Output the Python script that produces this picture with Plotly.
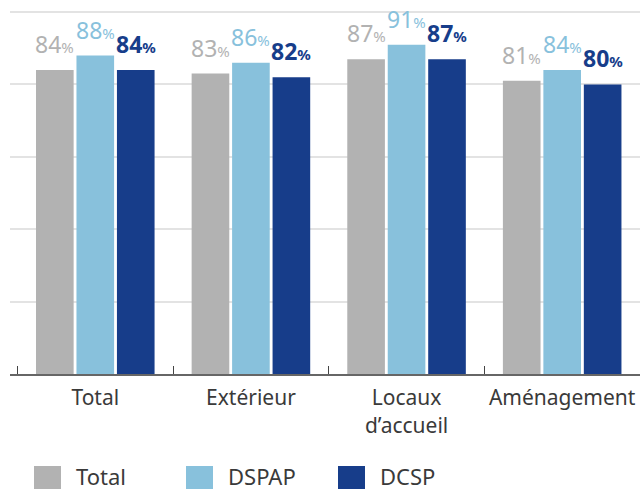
import plotly.graph_objects as go

categories = ["Total", "Extérieur", "Locaux<br>d’accueil", "Aménagement"]
series_names = ["Total", "DSPAP", "DCSP"]
total_vals = [84, 83, 87, 81]
dspap_vals = [88, 86, 91, 84]
dcsp_vals = [84, 82, 87, 80]

colors = ["#b2b2b2", "#88c1dc", "#173d8a"]
label_bold = [False, False, True]
FONT = "Noto Sans"

W, H = 640, 490
ML, MR, MT, MB = 10, 0, 11, 116
BARGAP = 0.22

fig = go.Figure()
all_vals = [total_vals, dspap_vals, dcsp_vals]
for name, vals, col in zip(series_names, all_vals, colors):
    fig.add_trace(go.Bar(
        x=categories, y=vals, name=name, marker_color=col, marker_line_width=0,
        cliponaxis=False, showlegend=False, hoverinfo="skip",
    ))

# value labels above bars (positioned on the category axis scale)
n = len(series_names)
slot = (1 - BARGAP) / n
for k, (vals, col, bold) in enumerate(zip(all_vals, colors, label_bold)):
    for i, v in enumerate(vals):
        if bold:
            txt = f"<b>{v}</b><b><span style='font-size:15px'>%</span></b>"
        else:
            txt = f"{v}<span style='font-size:15px'>%</span>"
        fig.add_annotation(x=i + (k - (n - 1) / 2) * slot, y=v, xref="x", yref="y",
                           text=txt, showarrow=False, yanchor="bottom", yshift=9,
                           borderpad=0, font=dict(family=FONT, size=23, color=col))

# custom legend (large square swatches)
pw, ph = W - ML - MR, H - MT - MB
def px_x(x):
    return (x - ML) / pw
def px_y(y):
    return (H - MB - y) / ph

legend_x = [34, 186, 338]
for name, col, lx in zip(series_names, colors, legend_x):
    fig.add_shape(type="rect", xref="paper", yref="paper",
                  x0=px_x(lx), x1=px_x(lx + 27), y0=px_y(489), y1=px_y(466),
                  fillcolor=col, line_width=0)
    fig.add_annotation(xref="paper", yref="paper", x=px_x(lx + 41), y=px_y(476),
                       text=name, showarrow=False, xanchor="left", yanchor="middle",
                       borderpad=0, font=dict(family=FONT, size=22, color="#3a3a3a"))

fig.update_layout(
    width=W, height=H, margin=dict(l=ML, r=MR, t=MT, b=MB, autoexpand=False),
    paper_bgcolor="white", plot_bgcolor="white",
    barmode="group", bargap=BARGAP, bargroupgap=0.07,
    font=dict(family=FONT, color="#3a3a3a"),
)
fig.update_xaxes(
    range=[-0.548, 3.5], showgrid=False, showline=True, linecolor="#666666", linewidth=2,
    ticks="inside", tickson="boundaries", ticklen=8, tickcolor="#444444", tickwidth=1,
    tickangle=0, automargin=False, ticklabelstandoff=4,
    tickfont=dict(family=FONT, size=21, color="#3a3a3a"), fixedrange=True,
)
fig.update_yaxes(
    range=[0, 100.3], dtick=20, showticklabels=False, showgrid=True,
    gridcolor="#e3e3e3", gridwidth=1.5, zeroline=False, fixedrange=True,
)

fig.write_html("out.html", config={"displayModeBar": False},
               post_script="document.body.style.margin='0';")
